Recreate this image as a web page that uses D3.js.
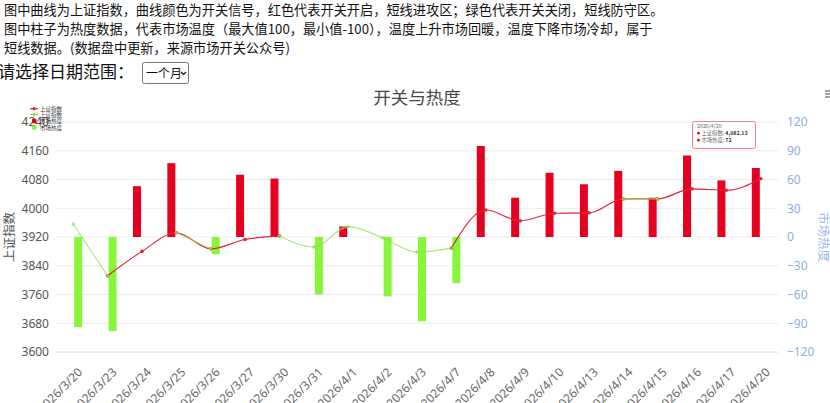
<!DOCTYPE html>
<html>
<head>
<meta charset="utf-8">
<script src="https://cdn.jsdelivr.net/npm/d3@7"></script>
<style>
  body { margin: 0; background: #fff; overflow: hidden; }
  svg { display: block; font-family: "Noto Sans CJK SC", "Noto Sans", sans-serif; }
</style>
</head>
<body>
<svg id="chart" width="830" height="403"></svg>
<script>
// data
var dates = ['2026/3/20','2026/3/23','2026/3/24','2026/3/25','2026/3/26','2026/3/27','2026/3/30',
  '2026/3/31','2026/4/1','2026/4/2','2026/4/3','2026/4/7','2026/4/8','2026/4/9','2026/4/10',
  '2026/4/13','2026/4/14','2026/4/15','2026/4/16','2026/4/17','2026/4/20'];
var szIndex = [3956, 3812, 3880, 3932, 3887, 3913, 3923, 3892, 3949, 3918, 3878,
  3889, 3995, 3965, 3986, 3987, 4026, 4026, 4054, 4050, 4082.13];
// 1 = switch on (red), 0 = switch off (green)
var signal = [0, 0, 1, 1, 0, 1, 1, 0, 0, 0, 0, 0, 1, 1, 1, 1, 1, 0, 1, 1, 1];
var heat = [-94, -98, 53, 77, -18, 65, 61, -60, 11, -62, -88, -48, 95, 41, 67,
  55, 69, 41, 85, 59, 72];
var leftTicks = [3600, 3680, 3760, 3840, 3920, 4000, 4080, 4160, 4240];
var rightTicks = [-120, -90, -60, -30, 0, 30, 60, 90, 120];
var headerLines = [
  '图中曲线为上证指数，曲线颜色为开关信号，红色代表开关开启，短线进攻区；绿色代表开关关闭，短线防守区。',
  '图中柱子为热度数据，代表市场温度（最大值100，最小值-100），温度上升市场回暖，温度下降市场冷却，属于',
  '短线数据。(数据盘中更新，来源市场开关公众号)'
];

var RED = '#e60020', GREEN = '#88f53a';
var LRED = '#e2233a', LGREEN = '#8be04e';

var svg = d3.select('#chart');

// header text
svg.selectAll('text.hdr').data(headerLines).enter().append('text')
  .attr('class', 'hdr')
  .attr('x', 4).attr('y', function(d, i) { return 15 + i * 19; })
  .attr('font-size', '13.2px').attr('fill', '#111')
  .text(function(d) { return d; });

svg.append('text').attr('x', -2).attr('y', 78)
  .attr('font-size', '17px').attr('fill', '#111')
  .text('请选择日期范围：');

// select box
svg.append('rect').attr('x', 142.5).attr('y', 62.5).attr('width', 46).attr('height', 21)
  .attr('rx', 2).attr('fill', '#fff').attr('stroke', '#767676');
svg.append('text').attr('x', 146).attr('y', 77.5).attr('font-size', '12px')
  .attr('fill', '#111').text('一个月');
svg.append('path').attr('d', 'M181,72 l2.5,2.5 l2.5,-2.5')
  .attr('fill', 'none').attr('stroke', '#111').attr('stroke-width', 1.2);

// title + toolbox icon
svg.append('text').attr('x', 417).attr('y', 104).attr('text-anchor', 'middle')
  .attr('font-size', '17.5px').attr('fill', '#464646').text('开关与热度');
[91, 94, 97].forEach(function(y) {
  svg.append('line').attr('x1', 825).attr('x2', 831).attr('y1', y).attr('y2', y)
    .attr('stroke', '#666').attr('stroke-width', 1.2);
});

// scales
var plotL = 56, plotR = 778, plotT = 122, plotB = 352;
var x = d3.scaleBand().domain(dates).range([plotL, plotR]);
var yL = d3.scaleLinear().domain([3600, 4240]).range([plotB, plotT]);
var yR = d3.scaleLinear().domain([-120, 120]).range([plotB, plotT]);
var cx = function(d) { return x(d) + x.bandwidth() / 2; };

// grid lines
svg.append('g').selectAll('line').data(leftTicks).enter().append('line')
  .attr('x1', plotL).attr('x2', plotR)
  .attr('y1', function(d) { return yL(d); }).attr('y2', function(d) { return yL(d); })
  .attr('stroke', function(d, i) { return i == 0 ? '#dcdcdc' : '#ececec'; })
  .attr('stroke-width', 1);

// left axis
var gL = svg.append('g').attr('transform', 'translate(' + (plotL - 7) + ',0)')
  .call(d3.axisLeft(yL).tickValues(leftTicks).tickSize(0).tickPadding(0).tickFormat(d3.format('d')));
gL.select('.domain').remove();
gL.selectAll('text').attr('font-size', '12px').attr('fill', '#555')
  .attr('font-family', '"Noto Sans", sans-serif');

// right axis
var gR = svg.append('g').attr('transform', 'translate(' + (plotR + 9) + ',0)')
  .call(d3.axisRight(yR).tickValues(rightTicks).tickSize(0).tickPadding(0));
gR.select('.domain').remove();
gR.selectAll('text').attr('font-size', '12px').attr('fill', '#8eaee3')
  .attr('font-family', '"Noto Sans", sans-serif');

// bottom axis labels
var gX = svg.append('g').attr('transform', 'translate(0,' + plotB + ')')
  .call(d3.axisBottom(x).tickSize(0).tickPadding(0));
gX.select('.domain').remove();
gX.selectAll('text')
  .attr('font-size', '12px').attr('fill', '#666')
  .attr('font-family', '"Noto Sans", sans-serif')
  .attr('text-anchor', 'end').attr('dy', '0.35em')
  .attr('transform', 'translate(7,18) rotate(-45)');

// axis titles
svg.append('text').attr('transform', 'translate(14,237) rotate(-90)')
  .attr('text-anchor', 'middle').attr('font-size', '12.5px').attr('fill', '#555')
  .text('上证指数');
svg.append('text').attr('transform', 'translate(819,237) rotate(90)')
  .attr('text-anchor', 'middle').attr('font-size', '12.5px').attr('fill', '#9dbbe8')
  .text('市场热度');

// heat bars: red series left of centre, green series right
var barW = 8;
svg.append('g').selectAll('rect').data(dates).enter().append('rect')
  .attr('x', function(d, i) { return cx(d) + (heat[i] >= 0 ? -5 : 5) - barW / 2; })
  .attr('y', function(d, i) { return yR(Math.max(0, heat[i])); })
  .attr('width', barW)
  .attr('height', function(d, i) { return Math.abs(yR(heat[i]) - yR(0)); })
  .attr('fill', function(d, i) { return heat[i] >= 0 ? RED : GREEN; });

// index line split by switch signal
function nextSig(i) { return i + 1 < signal.length ? signal[i + 1] : signal[i]; }
var redOn = function(i) { return signal[i] == 1 || nextSig(i) == 1; };
var greenOn = function(i) { return signal[i] == 0 || nextSig(i) == 0; };

function drawLine(isOn, color, op) {
  var line = d3.line()
    .defined(function(d, i) { return isOn(i); })
    .x(function(d, i) { return cx(dates[i]); })
    .y(function(d) { return yL(d); })
    .curve(d3.curveMonotoneX);
  svg.append('path').datum(szIndex).attr('d', line)
    .attr('fill', 'none').attr('stroke', color).attr('stroke-width', 1.1)
    .attr('stroke-opacity', op);
  var pts = szIndex.map(function(v, i) { return { v: v, i: i }; })
    .filter(function(p) { return isOn(p.i); });
  svg.append('g').selectAll('circle').data(pts).enter().append('circle')
    .attr('cx', function(p) { return cx(dates[p.i]); })
    .attr('cy', function(p) { return yL(p.v); })
    .attr('r', 1.8).attr('fill', color).attr('fill-opacity', op);
}
drawLine(redOn, LRED, 1);
drawLine(greenOn, LGREEN, 0.75);

// legend
var legend = svg.append('g').attr('font-size', '5.5px').attr('fill', '#333');
var legItems = [
  { name: '上证指数', color: LRED, kind: 'line', y: 108.7 },
  { name: '上证指数', color: LGREEN, kind: 'line', y: 114.5 },
  { name: '市场热度', color: RED, kind: 'rect', y: 121 },
  { name: '市场热度', color: GREEN, kind: 'rect', y: 127.5 }
];
legItems.forEach(function(it) {
  if (it.kind == 'line') {
    legend.append('line').attr('x1', 30).attr('x2', 38).attr('y1', it.y).attr('y2', it.y)
      .attr('stroke', it.color).attr('stroke-width', 1.2);
    legend.append('circle').attr('cx', 34).attr('cy', it.y).attr('r', 1.6).attr('fill', it.color);
  } else {
    legend.append('rect').attr('x', 32).attr('y', it.y - 2.2).attr('width', 4.4).attr('height', 4.4)
      .attr('rx', 1).attr('fill', it.color);
  }
  legend.append('text').attr('x', 40).attr('y', it.y + 2).text(it.name);
});

// tooltip for the last day
var last = dates.length - 1;
var tip = svg.append('g').attr('font-size', '5.3px').attr('fill', '#333');
tip.append('rect').attr('x', 692.5).attr('y', 121.5).attr('width', 63).attr('height', 27)
  .attr('rx', 2).attr('fill', '#fff').attr('fill-opacity', 0.95)
  .attr('stroke', '#e8848f').attr('stroke-width', 1);
tip.append('text').attr('x', 697).attr('y', 128).attr('fill', '#666').text(dates[last]);
[{ k: '上证指数', v: d3.format(',.2f')(szIndex[last]), y: 135 },
 { k: '市场热度', v: String(heat[last]), y: 142 }].forEach(function(r) {
  tip.append('circle').attr('cx', 698.5).attr('cy', r.y - 1.8).attr('r', 1.4).attr('fill', RED);
  var t = tip.append('text').attr('x', 701.5).attr('y', r.y);
  t.append('tspan').attr('fill', '#666').text(r.k + ': ');
  t.append('tspan').attr('font-weight', 'bold').attr('fill', '#333').text(r.v);
});
</script>
</body>
</html>
